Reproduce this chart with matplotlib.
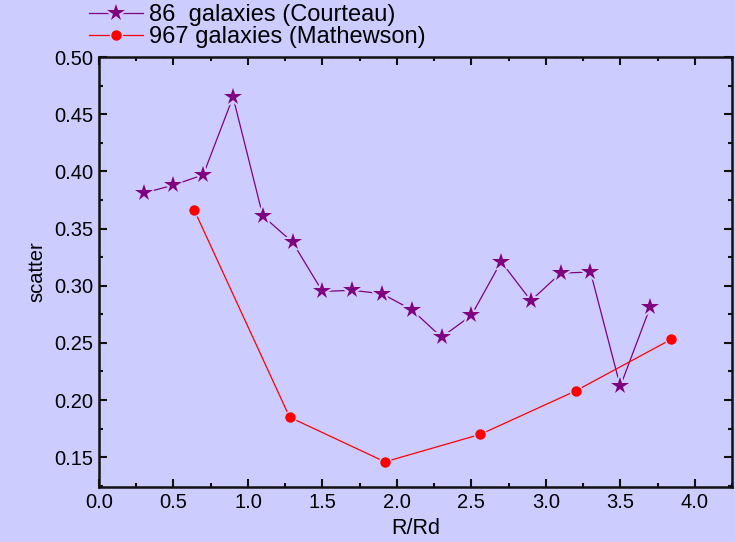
import matplotlib.pyplot as plt
from matplotlib.ticker import MultipleLocator
from matplotlib.legend_handler import HandlerTuple

plt.rcParams['font.family'] = ['Liberation Sans', 'DejaVu Sans']

# Courteau sample, 86 galaxies
r_courteau = [0.3, 0.5, 0.7, 0.9, 1.1, 1.3, 1.5, 1.7, 1.9, 2.1, 2.3, 2.5, 2.7, 2.9, 3.1, 3.3, 3.5, 3.7]
s_courteau = [0.381, 0.388, 0.397, 0.465, 0.361, 0.338, 0.295, 0.296, 0.293, 0.279,
              0.255, 0.274, 0.321, 0.287, 0.311, 0.312, 0.212, 0.281]

# Mathewson sample, 967 galaxies
r_mathewson = [0.64, 1.28, 1.92, 2.56, 3.20, 3.84]
s_mathewson = [0.366, 0.185, 0.146, 0.170, 0.208, 0.253]

bg = '#ccccff'
fig = plt.figure(figsize=(7.35, 5.42), dpi=100, facecolor=bg)
ax = fig.add_axes([0.1347, 0.1015, 0.8612, 0.7933])
ax.set_facecolor(bg)

# lines first with background-coloured symbols to open a gap, then the symbols on top
l1, = ax.plot(r_courteau, s_courteau, color='#800080', lw=0.9, marker='*', ms=13,
              markeredgewidth=3, markeredgecolor=bg, markerfacecolor=bg)
m1, = ax.plot(r_courteau, s_courteau, ls='none', marker='*', ms=13, color='#800080',
              markeredgewidth=0)
l2, = ax.plot(r_mathewson, s_mathewson, color='#ff0000', lw=0.9, marker='o', ms=7,
              markeredgewidth=2.5, markeredgecolor=bg, markerfacecolor=bg)
m2, = ax.plot(r_mathewson, s_mathewson, ls='none', marker='o', ms=7.5, color='#ff0000',
              markeredgewidth=0)

ax.set_xlim(0, 4.25)
ax.set_ylim(0.124, 0.5)
ax.xaxis.set_major_locator(MultipleLocator(0.5))
ax.xaxis.set_minor_locator(MultipleLocator(0.25))
ax.yaxis.set_major_locator(MultipleLocator(0.05))
ax.yaxis.set_minor_locator(MultipleLocator(0.025))
ax.xaxis.set_major_formatter(plt.FormatStrFormatter('%.1f'))
ax.yaxis.set_major_formatter(plt.FormatStrFormatter('%.2f'))

for s in ax.spines.values():
    s.set_linewidth(1.8)
    s.set_color('#111111')
ax.tick_params(which='both', direction='in', top=True, right=True, width=1.5, color='#111111')
ax.tick_params(which='major', length=5.5, labelsize=14.5, pad=4)
ax.tick_params(which='minor', length=3)

ax.set_xlabel('R/Rd', fontsize=15.5, labelpad=5)
ax.set_ylabel('scatter', fontsize=14.5, labelpad=6)

fig.legend(handles=[(l1, m1), (l2, m2)],
           labels=['86  galaxies (Courteau)', '967 galaxies (Mathewson)'],
           handler_map={tuple: HandlerTuple(ndivide=1)},
           loc='upper left', bbox_to_anchor=(0.108, 1.01), frameon=False,
           fontsize=17, handlelength=2.3, labelspacing=0.02, borderaxespad=0, handletextpad=0.25)

fig.savefig('out.png', dpi=100, facecolor=bg)
